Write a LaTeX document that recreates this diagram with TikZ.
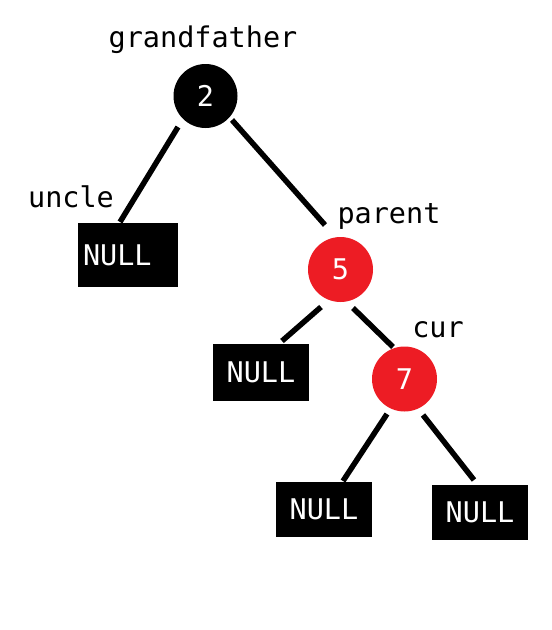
\documentclass[tikz,border=0pt]{standalone}
\usepackage{fontspec}
\setmonofont{DejaVu Sans Mono}
\usetikzlibrary{calc}
\definecolor{rbred}{HTML}{ED1C24}
\tikzset{
  txt/.style={font=\ttfamily\fontsize{28.5}{30}\selectfont},
  rbnode/.style={circle, txt, text=white, inner sep=0pt, minimum size=65pt},
  blacknode/.style={rbnode, fill=black},
  rednode/.style={rbnode, fill=rbred},
  nullbox/.style={rectangle, txt, fill=black, text=white, inner sep=0pt},
  lbl/.style={txt, text=black, inner sep=0pt, anchor=base},
  edge/.style={draw=black, line width=5.5pt}
}
\begin{document}
\begin{tikzpicture}[x=1pt,y=-1pt]
\useasboundingbox (0,0) rectangle (552,630);
% nodes
\node[blacknode, minimum size=64pt] (g) at (205.5,96) {2};
\node[rednode] (p) at (340.5,269.5) {5};
\node[rednode] (c) at (404.5,379) {7};
\node[nullbox, minimum height=64pt, text width=90pt, inner xsep=5pt, align=left] (u) at (128,255) {NULL};
\node[nullbox, minimum width=96pt, minimum height=57pt] (m) at (261,372.5) {NULL};
\node[nullbox, minimum width=96pt, minimum height=55pt] (bl) at (324,509.5) {NULL};
\node[nullbox, minimum width=96pt, minimum height=55pt] (br) at (480,512.5) {NULL};
% labels
\node[lbl] (lg) at (203,47) {grandfather};
\node[lbl] (lu) at (71,207) {uncle};
\node[lbl] (lp) at (389,223) {parent};
\node[lbl] (lc) at (438,337) {cur};
% edges
\draw[edge] ($(g)+(-27.5,31)$) -- ($(u)+(-8,-33)$);
\draw[edge] ($(g)+(26.5,24)$) -- ($(p)+(-15.5,-44.5)$);
\draw[edge] ($(p)+(-19.5,37.5)$) -- ($(m)+(21,-31.5)$);
\draw[edge] ($(p)+(12.5,38.5)$) -- ($(c)+(-11.5,-32)$);
\draw[edge] ($(c)+(-17.5,35)$) -- ($(bl)+(19,-28.5)$);
\draw[edge] ($(c)+(18.5,36)$) -- ($(br)+(-6,-32.5)$);
\end{tikzpicture}
\end{document}
